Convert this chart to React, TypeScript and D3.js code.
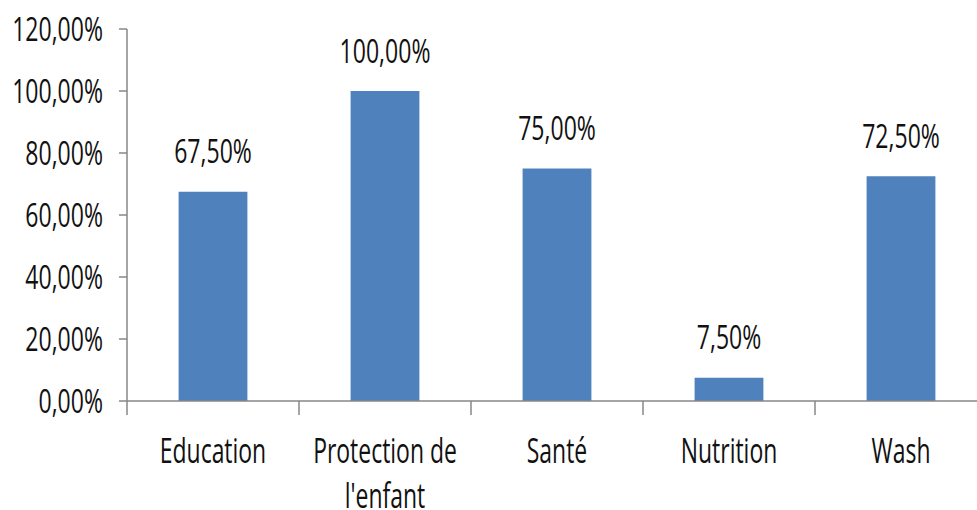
import React from "react";
import * as d3 from "d3";

const categories: string[][] = [["Education"], ["Protection de", "l'enfant"], ["Santé"], ["Nutrition"], ["Wash"]];
const values: number[] = [0.675, 1.0, 0.75, 0.075, 0.725];
const yTicks: number[] = [0, 0.2, 0.4, 0.6, 0.8, 1.0, 1.2];

const W = 977;
const H = 510;
const FONT = "'Open Sans', sans-serif";

const fmt = (v: number) => (v * 100).toFixed(2).replace(".", ",") + "%";

function T({ x, y, anchor, fs = 32, sx = 0.72, children }: { x: number; y: number; anchor: string; fs?: number; sx?: number; children: React.ReactNode }) {
  return (
    <g transform={`translate(${x},${y}) scale(${sx},1)`}>
      <text x={0} y={0} textAnchor={anchor} fontFamily={FONT} fontSize={fs} fill="#111">
        {children}
      </text>
    </g>
  );
}

export default function App() {
  const keys = categories.map((c) => c.join(" "));
  const x = d3.scaleBand<string>().domain(keys).range([127, 987]).paddingInner(0.6).paddingOuter(0.3);
  const y = d3.scaleLinear().domain([0, 1.2]).range([401, 29]);
  const step = x.step();
  const axisColor = "#878787";
  return (
    <svg width={W} height={H} style={{ position: "absolute", left: 0, top: 0, background: "#fff" }}>
      {/* y axis */}
      <line x1={127} x2={127} y1={y(1.2)} y2={y(0)} stroke={axisColor} strokeWidth={1.5} />
      {yTicks.map((t) => (
        <g key={t}>
          <line x1={119} x2={127} y1={y(t)} y2={y(t)} stroke={axisColor} strokeWidth={1.5} />
          <T x={103} y={y(t) + 11.5} anchor="end">{fmt(t)}</T>
        </g>
      ))}
      {/* bars */}
      {keys.map((k, i) => (
        <rect key={k} x={x(k)} y={y(values[i])} width={x.bandwidth()} height={y(0) - y(values[i])} fill="#4F81BD" />
      ))}
      {/* x axis */}
      <line x1={127} x2={987} y1={y(0)} y2={y(0)} stroke={axisColor} strokeWidth={1.5} />
      {d3.range(keys.length + 1).map((i) => (
        <line key={i} x1={127 + i * step} x2={127 + i * step} y1={y(0)} y2={y(0) + 14} stroke={axisColor} strokeWidth={1.5} />
      ))}
      {/* data labels */}
      {keys.map((k, i) => (
        <T key={k} x={(x(k) as number) + x.bandwidth() / 2} y={y(values[i]) - 28.5} anchor="middle">{fmt(values[i])}</T>
      ))}
      {/* category labels */}
      {categories.map((lines, i) => (
        <g key={i}>
          {lines.map((ln, j) => (
            <T key={j} x={(x(keys[i]) as number) + x.bandwidth() / 2} y={463 + j * 44.5} anchor="middle" fs={34.5} sx={0.665}>{ln}</T>
          ))}
        </g>
      ))}
    </svg>
  );
}
